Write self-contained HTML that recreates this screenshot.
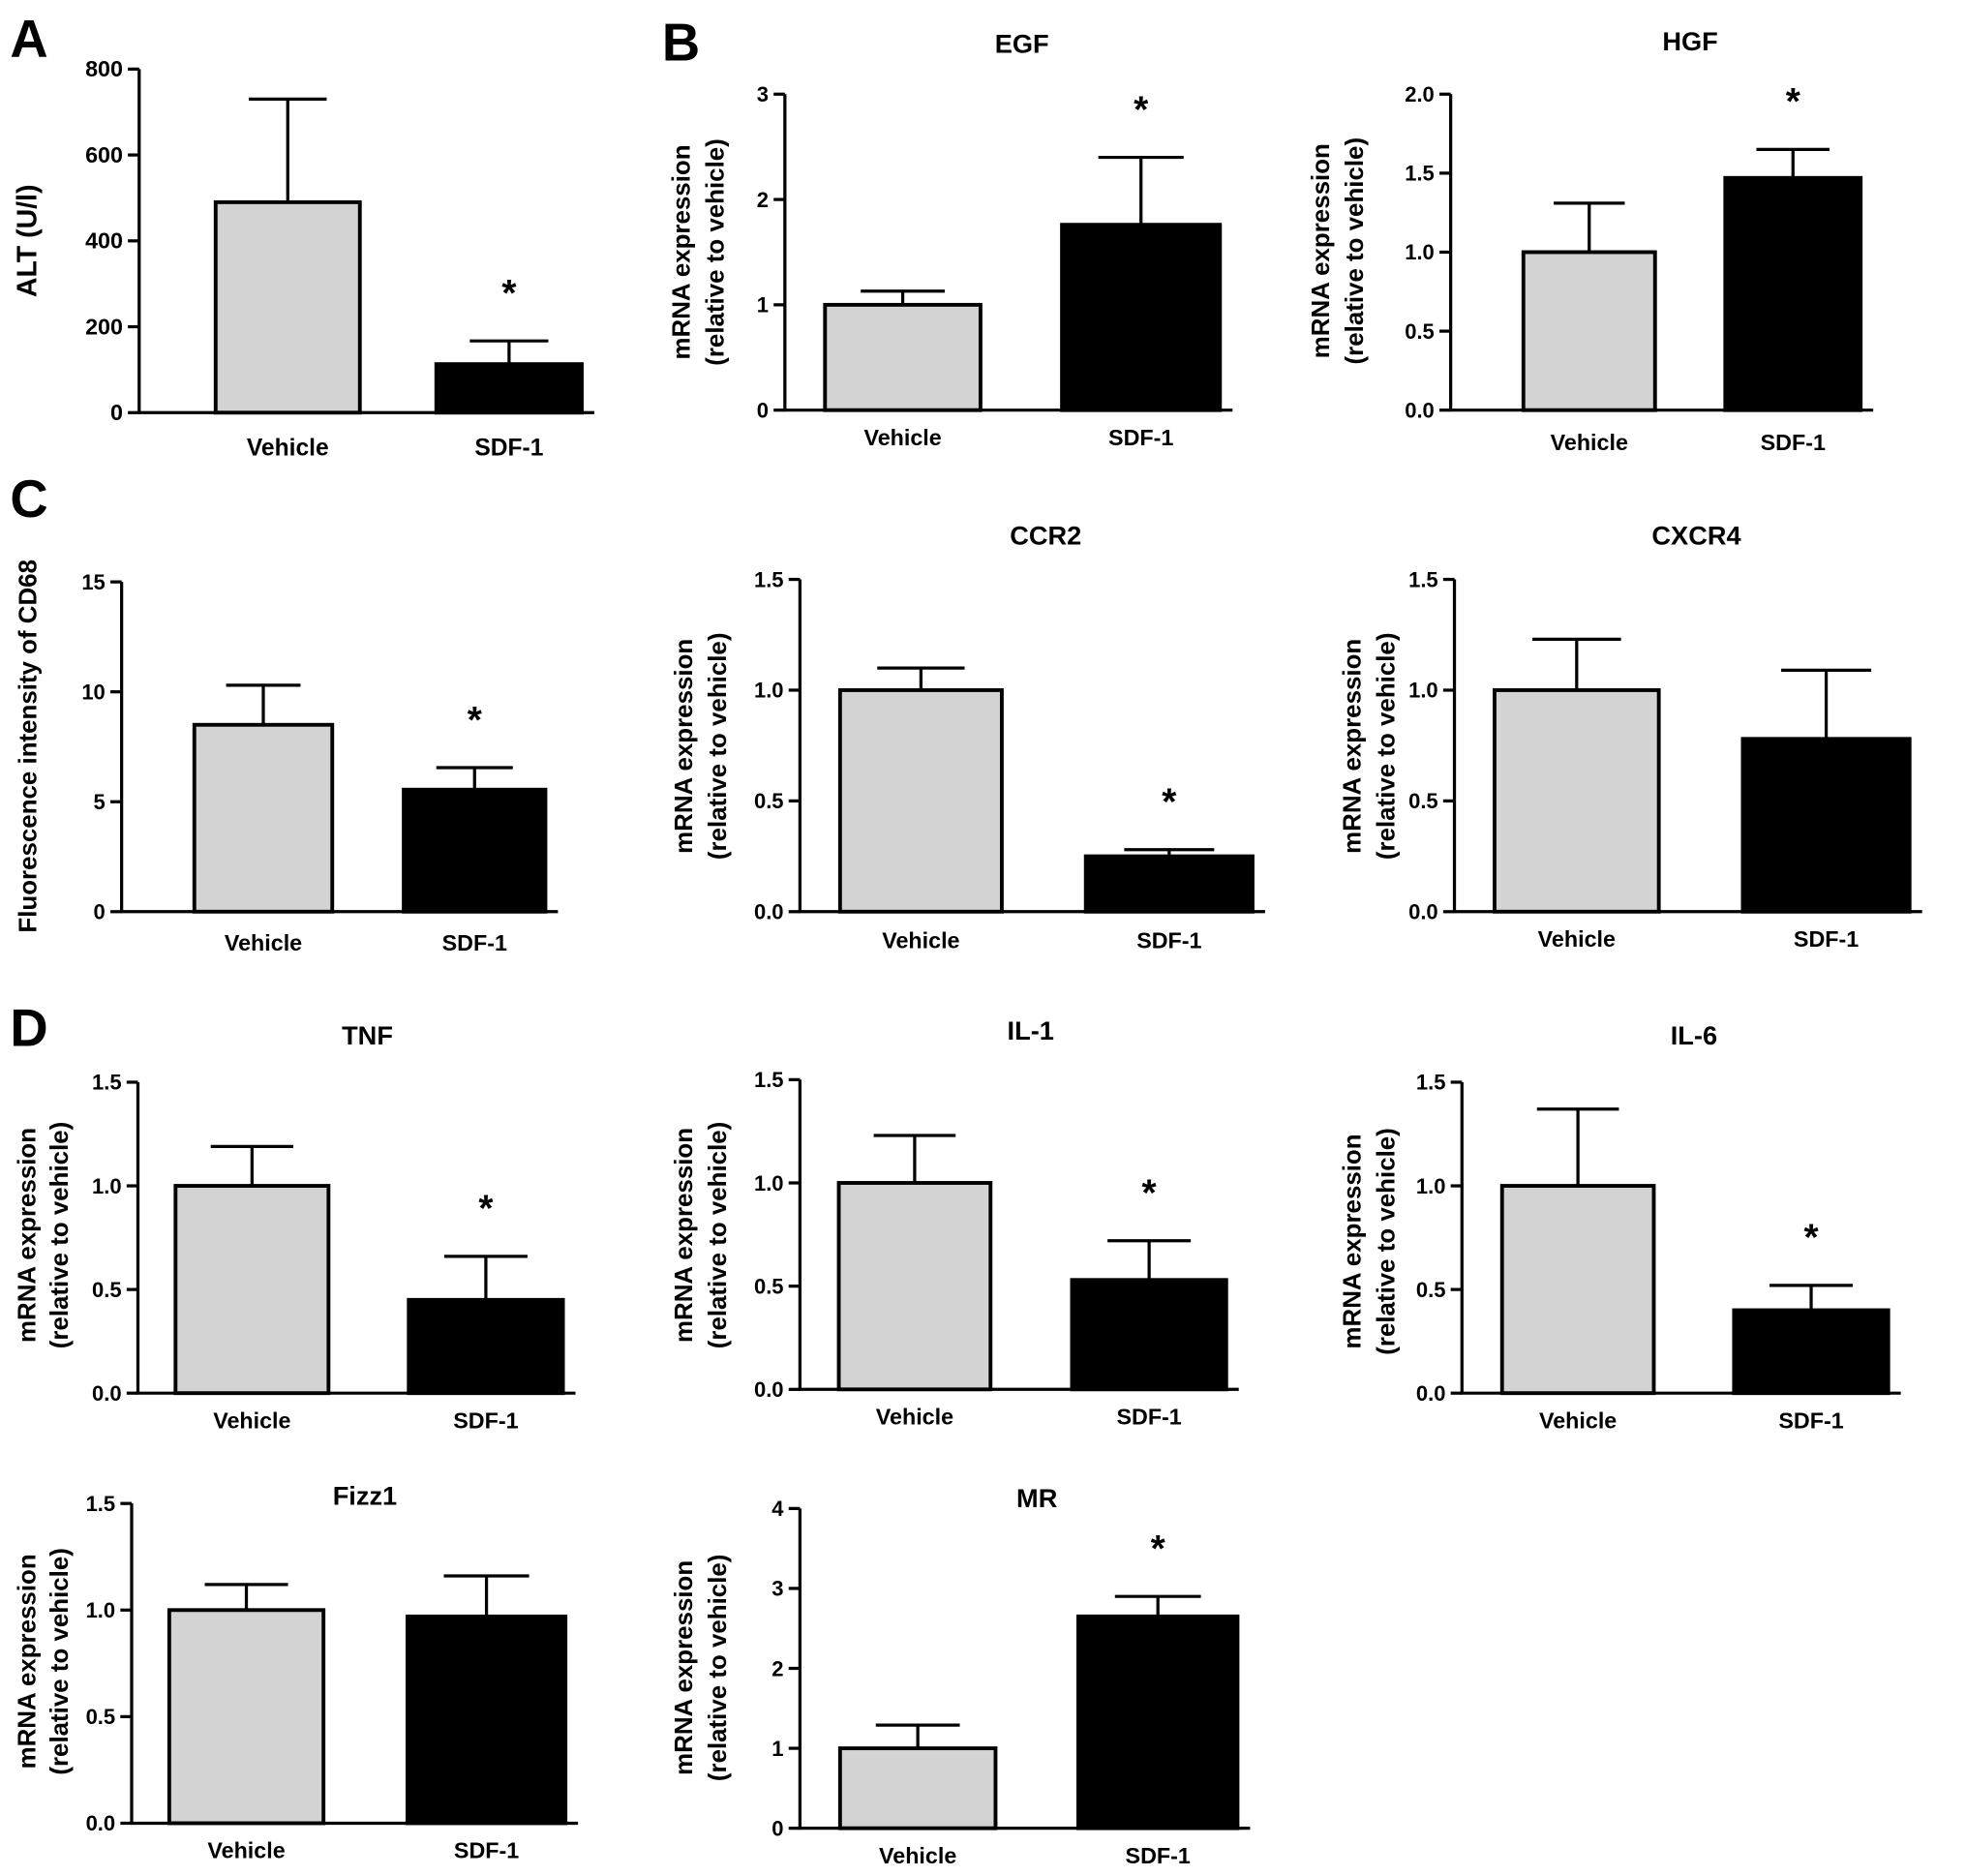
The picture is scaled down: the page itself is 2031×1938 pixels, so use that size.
<!DOCTYPE html>
<html><head><meta charset="utf-8"><style>
html,body{margin:0;padding:0;background:#fff}
svg{display:block}
text{font-family:"Liberation Sans",Arial,sans-serif;font-weight:bold;fill:#000}
</style></head><body>
<svg id="fig" width="2031" height="1938" viewBox="0 0 1568 1496" xmlns="http://www.w3.org/2000/svg">
<text x="8" y="45" font-size="42">A</text>
<text x="528" y="48" font-size="42">B</text>
<text x="8" y="412" font-size="42">C</text>
<text x="8" y="834" font-size="42">D</text>
</svg>
<script>
const groups=["Vehicle","SDF-1"];
const altValues=[490,113];      const altErrors=[730,167];   const altTicks=[0,200,400,600,800];
const egfValues=[1.0,1.76];     const egfErrors=[1.13,2.4];  const egfTicks=[0,1,2,3];
const hgfValues=[1.0,1.47];     const hgfErrors=[1.31,1.65]; const hgfTicks=["0.0","0.5","1.0","1.5","2.0"];
const cd68Values=[8.5,5.55];    const cd68Errors=[10.3,6.55];const cd68Ticks=[0,5,10,15];
const ccr2Values=[1.0,0.25];    const ccr2Errors=[1.1,0.28];
const cxcr4Values=[1.0,0.78];   const cxcr4Errors=[1.23,1.09];
const tnfValues=[1.0,0.45];     const tnfErrors=[1.19,0.66];
const il1Values=[1.0,0.53];     const il1Errors=[1.23,0.72];
const il6Values=[1.0,0.4];      const il6Errors=[1.37,0.52];
const fizzValues=[1.0,0.97];    const fizzErrors=[1.12,1.16];
const mrValues=[1.0,2.65];      const mrErrors=[1.29,2.9];   const mrTicks=[0,1,2,3,4];
const t15=["0.0","0.5","1.0","1.5"];
const starFlags={alt:[0,1],egf:[0,1],hgf:[0,1],cd68:[0,1],ccr2:[0,1],cxcr4:[0,0],tnf:[0,1],il1:[0,1],il6:[0,1],fizz:[0,0],mr:[0,1]};

const panels=[
 {id:"alt",title:"",vals:altValues,errs:altErrors,ticks:altTicks,ax:111,y0:329,y1:55,bars:[[172,287],[348,464]],lab:363,yt:["ALT (U/l)"],ytx:[22],ytc:192,big:true},
 {id:"egf",title:"EGF",tx:815,ty:42,vals:egfValues,errs:egfErrors,ticks:egfTicks,ax:626,y0:327,y1:75,bars:[[658,782],[847,973]],lab:355,yt:["mRNA expression","(relative to vehicle)"],ytx:[543,570],ytc:201},
 {id:"hgf",title:"HGF",tx:1348,ty:40,vals:hgfValues,errs:hgfErrors,ticks:hgfTicks,ax:1157,y0:327,y1:75,bars:[[1215,1320],[1376,1484]],lab:359,yt:["mRNA expression","(relative to vehicle)"],ytx:[1053,1080],ytc:200},
 {id:"cd68",title:"",vals:cd68Values,errs:cd68Errors,ticks:cd68Ticks,ax:97,y0:727,y1:464,bars:[[155,265],[322,435]],lab:758,yt:["Fluorescence intensity of CD68"],ytx:[22],ytc:595},
 {id:"ccr2",title:"CCR2",tx:834,ty:434,vals:ccr2Values,errs:ccr2Errors,ticks:t15,ax:638,y0:727,y1:462,bars:[[670,799],[866,999]],lab:756,yt:["mRNA expression","(relative to vehicle)"],ytx:[545,572],ytc:595},
 {id:"cxcr4",title:"CXCR4",tx:1353,ty:434,vals:cxcr4Values,errs:cxcr4Errors,ticks:t15,ax:1160,y0:727,y1:462,bars:[[1192,1323],[1390,1523]],lab:755,yt:["mRNA expression","(relative to vehicle)"],ytx:[1078,1105],ytc:595},
 {id:"tnf",title:"TNF",tx:293,ty:833,vals:tnfValues,errs:tnfErrors,ticks:t15,ax:110,y0:1111,y1:863,bars:[[140,262],[326,449]],lab:1139,yt:["mRNA expression","(relative to vehicle)"],ytx:[21,47],ytc:985},
 {id:"il1",title:"IL-1",tx:822,ty:829,vals:il1Values,errs:il1Errors,ticks:t15,ax:638,y0:1108,y1:861,bars:[[669,790],[855,978]],lab:1136,yt:["mRNA expression","(relative to vehicle)"],ytx:[545,572],ytc:985},
 {id:"il6",title:"IL-6",tx:1351,ty:833,vals:il6Values,errs:il6Errors,ticks:t15,ax:1166,y0:1111,y1:863,bars:[[1198,1319],[1383,1506]],lab:1139,yt:["mRNA expression","(relative to vehicle)"],ytx:[1078,1105],ytc:990},
 {id:"fizz",title:"Fizz1",tx:291,ty:1200,vals:fizzValues,errs:fizzErrors,ticks:t15,ax:105,y0:1454,y1:1199,bars:[[135,258],[325,451]],lab:1482,yt:["mRNA expression","(relative to vehicle)"],ytx:[21,47],ytc:1325},
 {id:"mr",title:"MR",tx:827,ty:1202,vals:mrValues,errs:mrErrors,ticks:mrTicks,ax:638,y0:1458,y1:1203,bars:[[670,794],[860,987]],lab:1486,yt:["mRNA expression","(relative to vehicle)"],ytx:[545,572],ytc:1330}
];
const NS="http://www.w3.org/2000/svg";
const svg=document.getElementById("fig");
function mk(tag,attrs,parent){const e=document.createElementNS(NS,tag);for(const k in attrs)e.setAttribute(k,attrs[k]);(parent||svg).appendChild(e);return e;}
panels.forEach(p=>{
 const g=mk("g",{});
 
 
 const tmax=parseFloat(p.ticks[p.ticks.length-1]);
 const ys=v=>p.y0-(v/tmax)*(p.y0-p.y1);
 const fs=p.big?18:17;
 if(p.title){const t=mk("text",{x:p.tx,y:p.ty,"font-size":21,"text-anchor":"middle"},g);t.textContent=p.title;
  
  }
 const right=p.bars[1][1]+10;
 const ya=mk("line",{x1:p.ax,y1:p.y0,x2:p.ax,y2:p.y1,stroke:"#000","stroke-width":2.5},g);
 
 
 const xa=mk("line",{x1:p.ax-1,y1:p.y0,x2:right,y2:p.y0,stroke:"#000","stroke-width":2.5},g);
 
 
 p.ticks.forEach(tk=>{
  const y=ys(parseFloat(tk));
  mk("line",{x1:p.ax-9,y1:y,x2:p.ax,y2:y,stroke:"#000","stroke-width":2.5},g);
  const t=mk("text",{x:p.ax-13,y:y+6,"font-size":fs,"text-anchor":"end"},g);t.textContent=tk;
  
  
 });
 p.yt.forEach((s,i)=>{
  const t=mk("text",{x:p.ytx[i],y:p.ytc,"font-size":p.big?22:20,"text-anchor":"middle",transform:`rotate(-90 ${p.ytx[i]} ${p.ytc})`,dy:"7"},g);
  t.textContent=s;
  
  
 });
 p.vals.forEach((v,i)=>{
  const [x1,x2]=p.bars[i];const cx=(x1+x2)/2;const w=x2-x1;
  const top=ys(v),et=ys(p.errs[i]);
  const el=mk("line",{x1:cx,y1:top,x2:cx,y2:et,stroke:"#000","stroke-width":2.5},g);
  
  
  mk("line",{x1:cx-w*0.27,y1:et,x2:cx+w*0.27,y2:et,stroke:"#000","stroke-width":2.5},g);
  const r=mk("rect",{x:x1,y:top,width:w,height:p.y0-top,fill:i==0?"#d3d3d3":"#000",stroke:"#000","stroke-width":3},g);
  
  
  const l=mk("text",{x:cx,y:p.lab,"font-size":p.big?19:18,"text-anchor":"middle"},g);l.textContent=groups[i];
  
  
  if(starFlags[p.id][i]){
   const s=mk("text",{x:cx,y:et-28,"font-size":30,"text-anchor":"middle"},g);s.textContent="*";
   
   
  }
 });
});
</script>
</body></html>
